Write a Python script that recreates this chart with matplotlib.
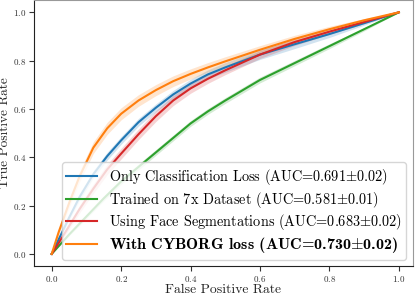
import matplotlib
matplotlib.use("Agg")
import matplotlib.pyplot as plt
from matplotlib.font_manager import FontProperties
import numpy as np

plt.rcParams['font.family'] = 'serif'
plt.rcParams['font.serif'] = ['cmr10', 'DejaVu Serif']
plt.rcParams['mathtext.fontset'] = 'cm'
plt.rcParams['axes.formatter.use_mathtext'] = True

# mean ROC curves and their std bands
fpr_cls = [0, 0.02, 0.05, 0.08, 0.12, 0.16, 0.2, 0.25, 0.3, 0.35, 0.4, 0.45, 0.5, 0.6, 0.7, 0.8, 0.9, 1.0]
tpr_cls = [0, 0.06, 0.15, 0.235, 0.33, 0.405, 0.47, 0.545, 0.605, 0.66, 0.705, 0.743, 0.772, 0.825, 0.868, 0.91, 0.955, 1.0]
std_cls = [0, 0.006, 0.01, 0.013, 0.015, 0.016, 0.016, 0.016, 0.016, 0.017, 0.018, 0.019, 0.02, 0.02, 0.018, 0.014, 0.008, 0]

fpr_7x = [0, 0.05, 0.1, 0.15, 0.2, 0.25, 0.3, 0.35, 0.4, 0.45, 0.5, 0.6, 0.7, 0.8, 0.9, 1.0]
tpr_7x = [0, 0.08, 0.155, 0.23, 0.3, 0.36, 0.42, 0.48, 0.54, 0.59, 0.635, 0.72, 0.79, 0.86, 0.93, 1.0]
std_7x = [0, 0.005, 0.008, 0.01, 0.011, 0.012, 0.012, 0.012, 0.012, 0.012, 0.012, 0.012, 0.011, 0.01, 0.007, 0]

fpr_seg = [0, 0.02, 0.05, 0.08, 0.12, 0.16, 0.2, 0.25, 0.3, 0.35, 0.4, 0.45, 0.5, 0.6, 0.7, 0.8, 0.9, 1.0]
tpr_seg = [0, 0.045, 0.115, 0.185, 0.27, 0.35, 0.415, 0.495, 0.57, 0.635, 0.685, 0.725, 0.76, 0.825, 0.877, 0.92, 0.96, 1.0]
std_seg = [0, 0.006, 0.012, 0.016, 0.019, 0.021, 0.022, 0.022, 0.022, 0.021, 0.02, 0.019, 0.018, 0.016, 0.014, 0.011, 0.007, 0]

fpr_cyb = [0, 0.02, 0.05, 0.08, 0.12, 0.16, 0.2, 0.25, 0.3, 0.35, 0.4, 0.45, 0.5, 0.6, 0.7, 0.8, 0.9, 1.0]
tpr_cyb = [0, 0.09, 0.21, 0.32, 0.44, 0.52, 0.58, 0.635, 0.678, 0.715, 0.745, 0.772, 0.797, 0.845, 0.89, 0.93, 0.967, 1.0]
std_cyb = [0, 0.01, 0.018, 0.022, 0.024, 0.025, 0.025, 0.024, 0.023, 0.022, 0.021, 0.02, 0.019, 0.017, 0.015, 0.012, 0.007, 0]

labels = [
    'Only Classification Loss (AUC=0.691$\\pm$0.02)',
    'Trained on 7x Dataset (AUC=0.581$\\pm$0.01)',
    'Using Face Segmentations (AUC=0.683$\\pm$0.02)',
    'With CYBORG loss (AUC=0.730$\\pm$0.02)',
]
colors = ['#1f77b4', '#2ca02c', '#d62728', '#ff7f0e']

curves = [
    (fpr_cls, tpr_cls, std_cls),
    (fpr_7x, tpr_7x, std_7x),
    (fpr_seg, tpr_seg, std_seg),
    (fpr_cyb, tpr_cyb, std_cyb),
]

fig = plt.figure(figsize=(4.15, 2.97), dpi=100)
ax = fig.add_axes([34 / 415, 1 - 266 / 297, (412.7 - 34) / 415, 266 / 297])

for (fx, ty, sd), lab, c in zip(curves, labels, colors):
    fx = np.array(fx)
    ty = np.array(ty)
    sd = np.array(sd)
    ax.fill_between(fx, ty - sd, ty + sd, color=c, alpha=0.2, lw=0)
    ax.plot(fx, ty, color=c, lw=1.5, label=lab)

ax.set_xlim(-0.051, 1.04)
ax.set_ylim(-0.05, 1.051)
ax.set_xticks([0, 0.2, 0.4, 0.6, 0.8, 1.0])
ax.set_yticks([0, 0.2, 0.4, 0.6, 0.8, 1.0])
ax.tick_params(labelsize=6.5, colors='#333333', length=3.5, width=0.8, pad=2)
for s in ['top', 'right']:
    ax.spines[s].set_color('#999999')
for s in ['left', 'bottom']:
    ax.spines[s].set_color('#222222')

ax.set_xlabel('False Positive Rate', fontsize=9.8, color='#222222', labelpad=0)
ax.set_ylabel('True Positive Rate', fontsize=9.6, color='#222222')
ax.yaxis.set_label_coords(-0.06, 0.5)

leg = ax.legend(loc='lower right', fontsize=10.3, framealpha=0.8, edgecolor='#cccccc',
                labelspacing=0.2, borderpad=0.3, handlelength=2.2, borderaxespad=0.45)
leg.get_texts()[3].set_fontproperties(FontProperties(family='cmb10', size=11.6))

fig.savefig('out.png', dpi=100)
